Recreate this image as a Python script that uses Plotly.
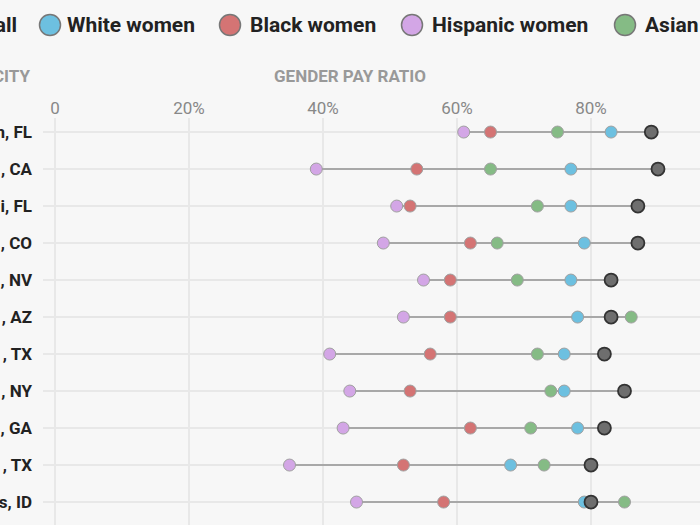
import plotly.graph_objects as go

cities = ["n, FL", ", CA", "i, FL", ", CO", ", NV", ", AZ", ", TX", ", NY", ", GA", ", TX", "s, ID"]
white = [83, 77, 77, 79, 77, 78, 76, 76, 78, 68, 79]
black = [65, 54, 53, 62, 59, 59, 56, 53, 62, 52, 58]
hispanic = [61, 39, 51, 49, 55, 52, 41, 44, 43, 35, 45]
asian = [75, 65, 72, 66, 69, 86, 72, 74, 71, 73, 85]
overall = [89, 90, 87, 87, 83, 83, 82, 85, 82, 80, 80]
x_ticks = [0, 20, 40, 60, 80, 100]
x_tick_labels = ["0", "20%", "40%", "60%", "80%", "100%"]

series = [
    ("White women", white, "#6dc0e0"),
    ("Black women", black, "#d47474"),
    ("Hispanic women", hispanic, "#d3a6e6"),
    ("Asian women", asian, "#85bb85"),
]

W, H = 700, 525
ML, MR, MT, MB = 43, 0, 118, 0
PW, PH = W - ML - MR, H - MT - MB


def px_x(p):
    return (p - ML) / PW


def px_y(p):
    return (H - MB - p) / PH


rows = list(range(len(cities)))

fig = go.Figure()

# connecting lines (min to max per city)
lx, ly = [], []
for i in rows:
    vals = [white[i], black[i], hispanic[i], asian[i], overall[i]]
    lx += [min(vals), max(vals), None]
    ly += [i, i, None]
fig.add_trace(go.Scatter(x=lx, y=ly, mode="lines",
                         line=dict(color="#a8a8a8", width=2),
                         hoverinfo="skip", showlegend=False))

for name, vals, col in series:
    fig.add_trace(go.Scatter(x=vals, y=rows, mode="markers", name=name,
                             marker=dict(size=12, color=col,
                                         line=dict(color="#a0a0a0", width=1)),
                             showlegend=False))

fig.add_trace(go.Scatter(x=overall, y=rows, mode="markers", name="Overall",
                         marker=dict(size=13, color="#6e6e6e",
                                     line=dict(color="#333333", width=1.8)),
                         showlegend=False))

# custom legend
legend_items = [
    ("Overall", "#6e6e6e", "#333333", -66, -49),
    ("White women", "#6dc0e0", "#777777", 50, 67),
    ("Black women", "#d47474", "#777777", 230, 250),
    ("Hispanic women", "#d3a6e6", "#777777", 412, 432),
    ("Asian women", "#85bb85", "#777777", 625, 645),
]
shapes = []
annotations = []
ly_c = 25
for label, fill, border, cx, tx in legend_items:
    shapes.append(dict(type="circle", xref="paper", yref="paper",
                       xsizemode="pixel", ysizemode="pixel",
                       xanchor=px_x(cx), yanchor=px_y(ly_c),
                       x0=-10.5, x1=10.5, y0=-10.5, y1=10.5,
                       fillcolor=fill, line=dict(color=border, width=1.5)))
    annotations.append(dict(text=label, xref="paper", yref="paper",
                            x=px_x(tx - 2), y=px_y(ly_c), xanchor="left",
                            yanchor="middle", showarrow=False,
                            font=dict(family="Roboto", size=21, color="#222222", weight="bold")))

annotations.append(dict(text="CITY", xref="paper", yref="paper",
                        x=px_x(33), y=px_y(76), xanchor="right", yanchor="middle",
                        showarrow=False,
                        font=dict(family="Roboto", size=17, color="#999999", weight="bold")))
annotations.append(dict(text="GENDER PAY RATIO", xref="paper", yref="paper",
                        x=px_x(350), y=px_y(76), xanchor="center", yanchor="middle",
                        showarrow=False,
                        font=dict(family="Roboto", size=17, color="#999999", weight="bold")))

fig.update_layout(
    width=W, height=H,
    margin=dict(l=ML, r=MR, t=MT, b=MB),
    paper_bgcolor="#f7f7f7", plot_bgcolor="#f7f7f7",
    showlegend=False,
    shapes=shapes, annotations=annotations,
    font=dict(family="Roboto"),
    xaxis=dict(side="top", range=[(ML - 55) / 6.7, (W - 55) / 6.7],
               tickvals=x_ticks, ticktext=x_tick_labels,
               showgrid=True, gridcolor="#e8e8e8", gridwidth=2,
               zeroline=False, showline=False, ticks="",
               tickfont=dict(family="Roboto", size=17, color="#888888"),
               fixedrange=True),
    yaxis=dict(range=[10.62, -0.38], tickvals=rows, ticktext=cities,
               showgrid=True, gridcolor="#e8e8e8",
               gridwidth=2, zeroline=False, showline=False, ticks="",
               ticklabelstandoff=10, automargin=False,
               tickfont=dict(family="Roboto", size=17, color="#222222", weight="bold"),
               fixedrange=True),
)

fig.write_html("out.html", config={"displayModeBar": False},
               post_script="document.body.style.margin='0';document.body.style.overflow='hidden';")
